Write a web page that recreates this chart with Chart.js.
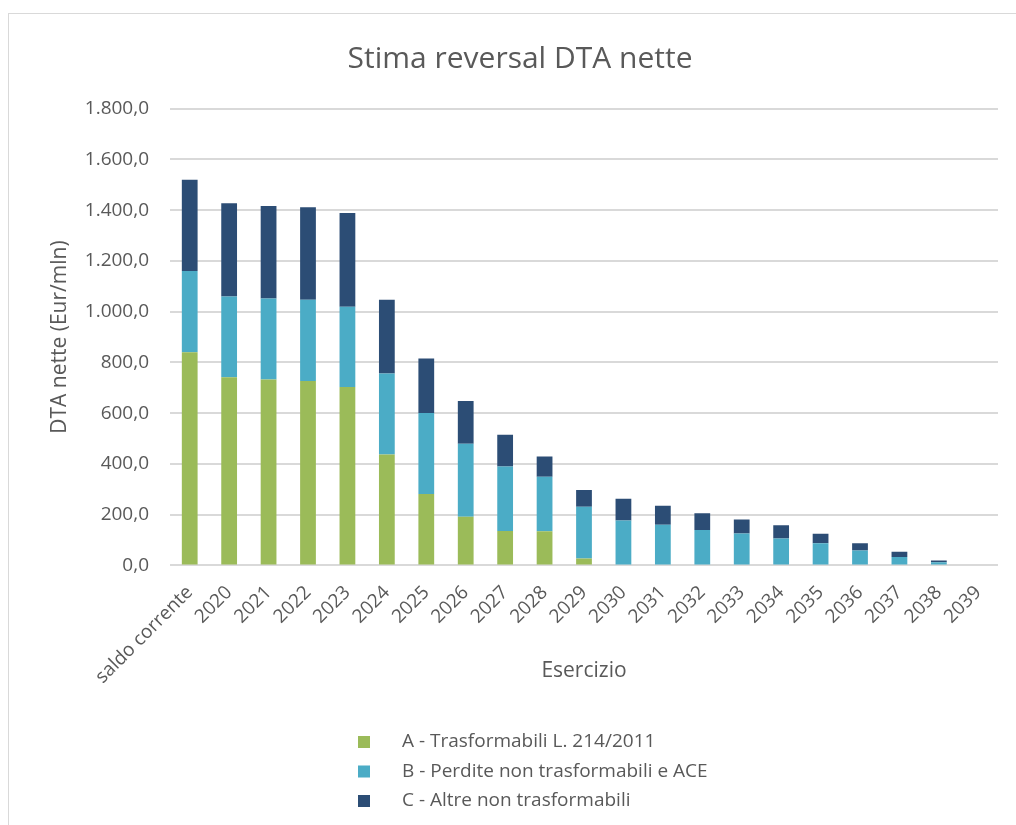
<!DOCTYPE html>
<html>
<head>
<meta charset="utf-8">
<script src="https://cdn.jsdelivr.net/npm/chart.js@4"></script>
<style>
  html, body { margin: 0; padding: 0; background: #fff; }
  #wrap { width: 1016px; height: 825px; position: relative; }
</style>
</head>
<body>
<div id="wrap"><canvas id="chart" width="1016" height="825"></canvas></div>
<script>
const categories = ['saldo corrente', '2020', '2021', '2022', '2023', '2024', '2025', '2026', '2027', '2028', '2029',
  '2030', '2031', '2032', '2033', '2034', '2035', '2036', '2037', '2038', '2039']
const trasformabili = [840, 742, 733, 727, 703, 437, 281, 192, 136, 135, 27, 0, 0, 0, 0, 0, 0, 0, 0, 0, 0]
const perdite = [320, 318, 319, 320, 316, 319, 320, 287, 254, 214, 204, 177, 160, 140, 126, 106, 87, 59, 33, 12, 0]
const altre = [360, 367, 365, 365, 370, 291, 214, 169, 125, 80, 66, 86, 75, 66, 55, 52, 38, 28, 21, 7, 0]
const seriesLabels = ['A - Trasformabili L. 214/2011', 'B - Perdite non trasformabili e ACE', 'C - Altre non trasformabili']
const seriesColors = ['#9BBB59', '#4BACC6', '#2C4D75']

const FONT = "'Open Sans', sans-serif"
const TEXT = '#595959'

// 1800 -> "1.800,0"
function fmtIt(v) {
  const parts = v.toFixed(1).split('.')
  const int = parts[0].replace(/\B(?=(\d{3})+(?!\d))/g, '.')
  return int + ',' + parts[1]
}

const frame = {
  id: 'frame',
  beforeDraw(chart) {
    const ctx = chart.ctx
    ctx.save()
    ctx.fillStyle = '#fff'
    ctx.fillRect(0, 0, chart.width, chart.height)
    ctx.strokeStyle = '#D9D9D9'
    ctx.lineWidth = 1
    ctx.strokeRect(8.5, 13.5, chart.width + 20, chart.height + 20)
    ctx.restore()
  }
}

// vertical legend, left aligned, under the axis title
const sideLegend = {
  id: 'sideLegend',
  afterDraw(chart) {
    const ctx = chart.ctx
    const x0 = chart.chartArea.left + 188
    const y0 = chart.scales.x.bottom + 54
    ctx.save()
    ctx.font = '19px ' + FONT
    ctx.textBaseline = 'middle'
    chart.data.datasets.forEach((ds, i) => {
      const y = y0 + i * 29.5
      ctx.fillStyle = ds.backgroundColor
      ctx.fillRect(x0, y - 6, 12, 12)
      ctx.fillStyle = TEXT
      ctx.fillText(ds.label, x0 + 44, y)
    })
    ctx.restore()
  }
}

const data = {
  labels: categories,
  datasets: [trasformabili, perdite, altre].map((vals, i) => ({
    label: seriesLabels[i],
    data: vals,
    backgroundColor: seriesColors[i],
    borderWidth: 0,
    categoryPercentage: 1,
    barPercentage: 0.4
  }))
}

new Chart(document.getElementById('chart'), {
  type: 'bar',
  data,
  plugins: [frame, sideLegend],
  options: {
    responsive: false,
    animation: false,
    layout: { padding: { left: 42, top: 13, right: 18, bottom: 137 } },
    plugins: {
      legend: { display: false },
      tooltip: { enabled: false },
      title: {
        display: true,
        text: 'Stima reversal DTA nette',
        color: TEXT,
        font: { family: FONT, size: 30, weight: 'normal' },
        padding: { top: 28, bottom: 31.7 }
      }
    },
    scales: {
      x: {
        stacked: true,
        grid: { display: false },
        border: { display: false },
        ticks: {
          color: TEXT,
          font: { family: FONT, size: 19 },
          minRotation: 45,
          maxRotation: 45,
          padding: 8
        },
        title: {
          display: true,
          text: 'Esercizio',
          color: TEXT,
          font: { family: FONT, size: 21 },
          padding: { top: 0, bottom: 4 }
        },
        afterFit(scale) { scale.height = 122.6 }
      },
      y: {
        stacked: true,
        min: 0,
        max: 1800,
        grid: { color: '#D9D9D9', lineWidth: 2, drawTicks: false },
        border: { display: false },
        ticks: {
          stepSize: 200,
          color: TEXT,
          font: { family: FONT, size: 19 },
          padding: 21,
          callback: v => fmtIt(v)
        },
        title: {
          display: true,
          text: 'DTA nette (Eur/mln)',
          color: TEXT,
          font: { family: FONT, size: 21 },
          padding: { top: 5, bottom: 0 }
        },
        afterFit(scale) { scale.width = 128 }
      }
    }
  }
})
</script>
</body>
</html>
